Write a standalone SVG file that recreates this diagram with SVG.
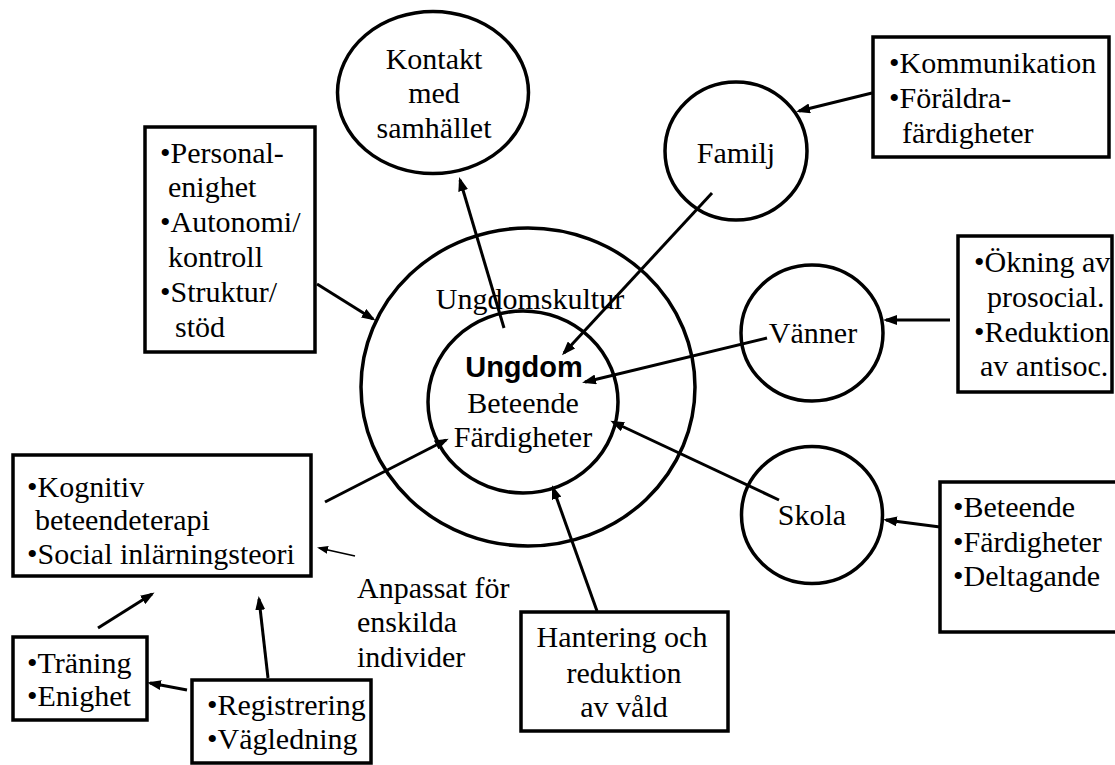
<svg xmlns="http://www.w3.org/2000/svg" width="1115" height="765" viewBox="0 0 1115 765">
<defs>
<style>
.t{font-family:"Liberation Serif","Times New Roman",serif;font-size:30px;fill:#000}
.m{text-anchor:middle}
.b{font-family:"Liberation Sans",Arial,sans-serif;font-size:29px;font-weight:bold;fill:#000}
.box{fill:#fff;stroke:#000;stroke-width:3.5}
.circ{fill:none;stroke:#000;stroke-width:3.5}
.ln{stroke:#000;stroke-width:3;fill:none;marker-end:url(#ah)}
.thin{stroke:#000;stroke-width:1.5;fill:none;marker-end:url(#ahs)}
</style>
<marker id="ah" markerWidth="14" markerHeight="10" refX="11" refY="5" orient="auto" markerUnits="userSpaceOnUse"><path d="M0,0 L14,5 L0,10 z" fill="#000"/></marker>
<marker id="ahs" markerWidth="11" markerHeight="8" refX="9" refY="4" orient="auto" markerUnits="userSpaceOnUse"><path d="M0,0 L11,4 L0,8 z" fill="#000"/></marker>
</defs>
<rect width="1115" height="765" fill="#fff"/>

<g id="ungdomskultur">
<ellipse class="circ" cx="528" cy="387" rx="167" ry="159"/>
<text class="t m" x="530" y="309">Ungdomskultur</text>
</g>
<g id="ungdom">
<ellipse class="circ" cx="523" cy="402" rx="95" ry="91"/>
<text class="b" x="524" y="377" text-anchor="middle">Ungdom</text>
<text class="t m" x="523" y="413">Beteende</text>
<text class="t m" x="523" y="447">Färdigheter</text>
</g>
<g id="kontakt">
<ellipse class="circ" cx="433" cy="92.5" rx="95.5" ry="81"/>
<text class="t m" x="434" y="69">Kontakt</text>
<text class="t m" x="434" y="103">med</text>
<text class="t m" x="434" y="138">samhället</text>
</g>
<g id="personal">
<rect class="box" x="145" y="127" width="170" height="225"/>
<text class="t" x="160" y="163">•Personal-</text>
<text class="t" x="168" y="197">enighet</text>
<text class="t" x="160" y="232">•Autonomi/</text>
<text class="t" x="168" y="267">kontroll</text>
<text class="t" x="160" y="302">•Struktur/</text>
<text class="t" x="175" y="337">stöd</text>
</g>
<g id="familj">
<ellipse class="circ" cx="736" cy="151" rx="71" ry="69"/>
<text class="t m" x="736" y="163">Familj</text>
</g>
<g id="kommunikation">
<rect class="box" x="873" y="37" width="236" height="120"/>
<text class="t" x="889" y="73">•Kommunikation</text>
<text class="t" x="889" y="108">•Föräldra-</text>
<text class="t" x="902" y="143">färdigheter</text>
</g>
<g id="vanner">
<ellipse class="circ" cx="812" cy="333" rx="71" ry="68"/>
<text class="t m" x="813" y="343">Vänner</text>
</g>
<g id="okning">
<rect class="box" x="958" y="236" width="154" height="156"/>
<text class="t" x="974" y="272">•Ökning av</text>
<text class="t" x="987" y="307">prosocial.</text>
<text class="t" x="974" y="342">•Reduktion</text>
<text class="t" x="980" y="376">av antisoc.</text>
</g>
<g id="skola">
<ellipse class="circ" cx="812" cy="515" rx="70.5" ry="68.5"/>
<text class="t m" x="812" y="525">Skola</text>
</g>
<g id="beteende">
<rect class="box" x="940" y="482" width="185" height="150"/>
<text class="t" x="953" y="517">•Beteende</text>
<text class="t" x="953" y="552">•Färdigheter</text>
<text class="t" x="953" y="586">•Deltagande</text>
</g>
<g id="hantering">
<rect class="box" x="521" y="612" width="207" height="119"/>
<text class="t m" x="622" y="647">Hantering och</text>
<text class="t m" x="624" y="683">reduktion</text>
<text class="t m" x="624" y="717">av våld</text>
</g>
<g id="kognitiv">
<rect class="box" x="13" y="455" width="298" height="121"/>
<text class="t" x="27" y="497">•Kognitiv</text>
<text class="t" x="35" y="530">beteendeterapi</text>
<text class="t" x="27" y="564">•Social inlärningsteori</text>
</g>
<g id="anpassat">
<text class="t" x="357" y="598">Anpassat för</text>
<text class="t" x="357" y="632">enskilda</text>
<text class="t" x="357" y="667">individer</text>
</g>
<g id="traning">
<rect class="box" x="13" y="637" width="134" height="83"/>
<text class="t" x="27" y="673">•Träning</text>
<text class="t" x="27" y="706">•Enighet</text>
</g>
<g id="registrering">
<rect class="box" x="192" y="680" width="179" height="83"/>
<text class="t" x="207" y="715">•Registrering</text>
<text class="t" x="207" y="749">•Vägledning</text>
</g>

<g id="connectors">
<line class="ln" x1="504" y1="328" x2="460" y2="180"/>
<line class="ln" x1="317" y1="284" x2="373" y2="319"/>
<line class="ln" x1="712" y1="193" x2="564" y2="353"/>
<line class="ln" x1="872" y1="93" x2="799" y2="111"/>
<line class="ln" x1="767" y1="338" x2="585" y2="382"/>
<line class="ln" x1="950" y1="320" x2="886" y2="320"/>
<line class="ln" x1="779" y1="500" x2="613" y2="422"/>
<line class="ln" x1="940" y1="527" x2="886" y2="520"/>
<line class="ln" x1="325" y1="502" x2="446" y2="440"/>
<line class="ln" x1="597" y1="611" x2="553" y2="488"/>
<line class="thin" x1="355" y1="556" x2="319" y2="548"/>
<line class="ln" x1="98" y1="628" x2="152" y2="594"/>
<line class="ln" x1="268" y1="678" x2="259" y2="599"/>
<line class="ln" x1="187" y1="690" x2="150" y2="683"/>
</g>
</svg>
